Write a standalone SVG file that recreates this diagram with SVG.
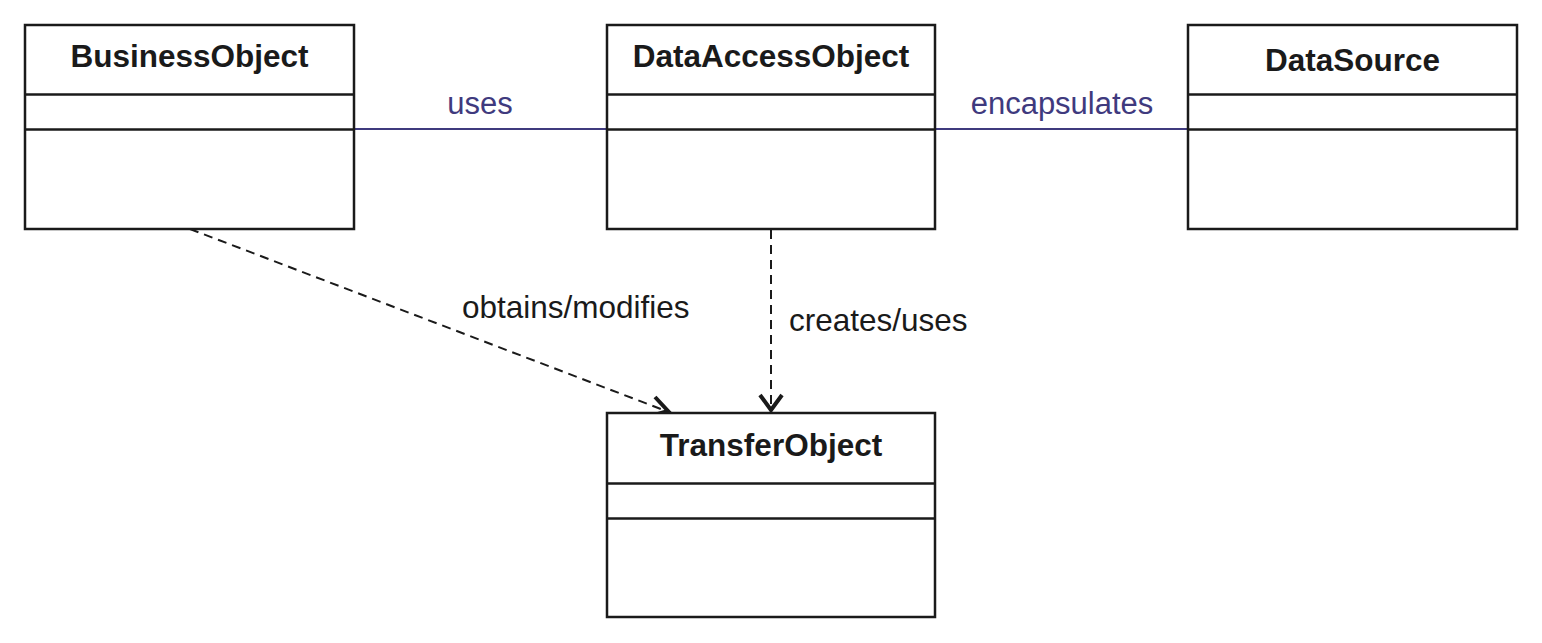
<svg xmlns="http://www.w3.org/2000/svg" width="1542" height="643" viewBox="0 0 1542 643">
<style>
.box{fill:#fff;stroke:#1a1a1a;stroke-width:2.5}
.div{stroke:#1a1a1a;stroke-width:2.5}
.title{font-family:"Liberation Sans",Arial,sans-serif;font-weight:bold;font-size:31.5px;fill:#1a1a1a;text-anchor:middle}
.lbl{font-family:"Liberation Sans",Arial,sans-serif;font-size:31.5px;fill:#1a1a1a}
.blbl{font-family:"Liberation Sans",Arial,sans-serif;font-size:31px;fill:#3f3a7e;text-anchor:middle}
.assoc{stroke:#3f3a7e;stroke-width:2;fill:none}
.dep{stroke:#1a1a1a;stroke-width:2;stroke-dasharray:9,6;fill:none}
.head{stroke:#1a1a1a;stroke-width:4;fill:none}
</style>
<rect width="1542" height="643" fill="#fff"/>
<g id="connectors">
<line class="assoc" x1="354" y1="129" x2="607" y2="129"/>
<text class="blbl" x="480" y="114">uses</text>
<line class="assoc" x1="935" y1="129" x2="1188" y2="129"/>
<text class="blbl" x="1062" y="114">encapsulates</text>
<line class="dep" x1="190" y1="229" x2="666" y2="411"/>
<polyline class="head" points="655,397 668,411 648,417"/>
<text class="lbl" x="462" y="318">obtains/modifies</text>
<line class="dep" x1="771" y1="230" x2="771" y2="410"/>
<polyline class="head" points="760,395 771,410 782,395"/>
<text class="lbl" x="789" y="331">creates/uses</text>
</g>
<g id="BusinessObject">
<rect class="box" x="25" y="25" width="329" height="204"/>
<line class="div" x1="25" y1="94.5" x2="354" y2="94.5"/>
<line class="div" x1="25" y1="129.5" x2="354" y2="129.5"/>
<text class="title" x="189.5" y="67">BusinessObject</text>
</g>
<g id="DataAccessObject">
<rect class="box" x="607" y="25" width="328" height="204"/>
<line class="div" x1="607" y1="94.5" x2="935" y2="94.5"/>
<line class="div" x1="607" y1="129.5" x2="935" y2="129.5"/>
<text class="title" x="771" y="67">DataAccessObject</text>
</g>
<g id="DataSource">
<rect class="box" x="1188" y="25" width="329" height="204"/>
<line class="div" x1="1188" y1="94.5" x2="1517" y2="94.5"/>
<line class="div" x1="1188" y1="129.5" x2="1517" y2="129.5"/>
<text class="title" x="1352.5" y="71">DataSource</text>
</g>
<g id="TransferObject">
<rect class="box" x="607" y="413" width="328" height="204"/>
<line class="div" x1="607" y1="483.5" x2="935" y2="483.5"/>
<line class="div" x1="607" y1="518.5" x2="935" y2="518.5"/>
<text class="title" x="771" y="456">TransferObject</text>
</g>
</svg>
